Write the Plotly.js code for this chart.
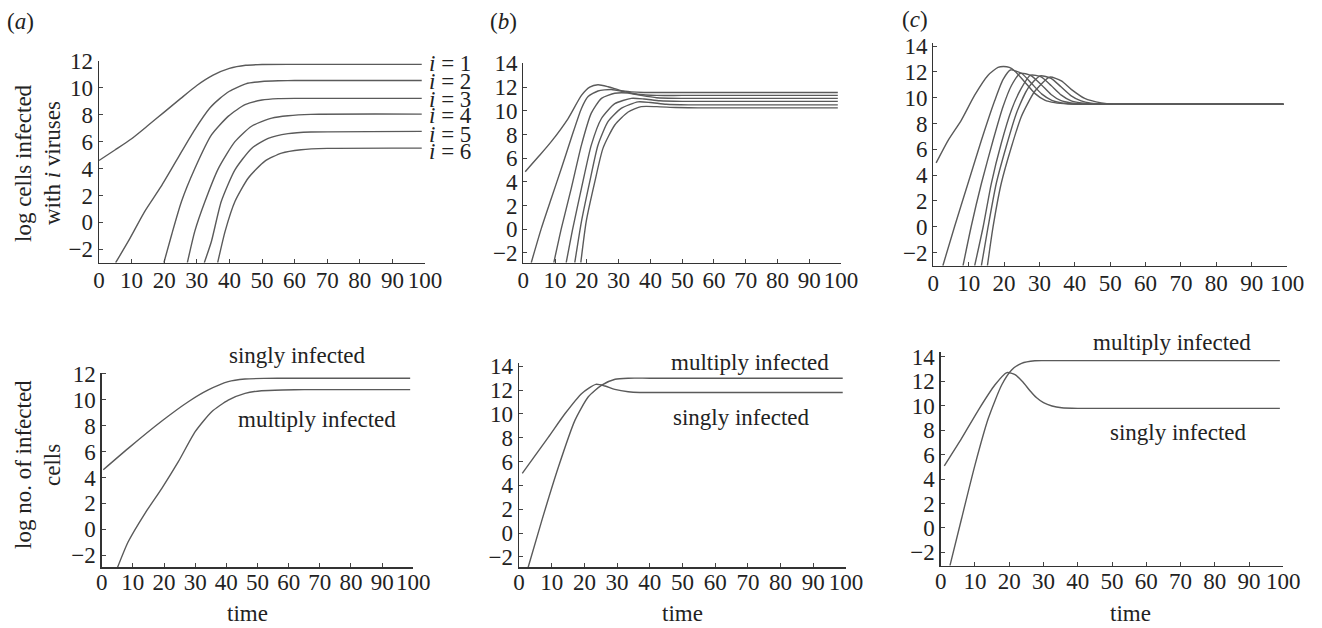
<!DOCTYPE html>
<html>
<head>
<meta charset="utf-8">
<script src="https://cdn.plot.ly/plotly-3.0.1.min.js"></script>
<style>html,body{margin:0;padding:0;background:#fff;}#chart{width:1322px;height:628px;}</style>
</head>
<body>
<div id="chart"></div>
<script>
// ---------- data ----------
// Panel (a), top: log cells infected with i viruses
const a1_t = [0, 5, 10, 15, 20, 25, 30, 35, 40, 45, 50, 60, 99];
const a1_y = [4.6, 5.4, 6.22, 7.2, 8.2, 9.2, 10.18, 10.95, 11.45, 11.68, 11.74, 11.75, 11.75];
const a2_t = [5.1, 9, 14, 19, 24, 29, 34, 37, 40, 45, 50, 55, 60, 99];
const a2_y = [-3, -1.4, 0.8, 2.65, 4.7, 6.75, 8.5, 9.2, 9.75, 10.3, 10.48, 10.53, 10.55, 10.55];
const a3_t = [19.9, 22.3, 25.3, 29.4, 34.5, 39.7, 44.8, 50, 55, 60, 99];
const a3_y = [-3, -0.9, 1.55, 4.0, 6.5, 7.9, 8.75, 9.1, 9.2, 9.22, 9.22];
const a4_t = [27.1, 29.4, 32.5, 36.6, 41.7, 46.8, 53, 58, 65, 99];
const a4_y = [-3, -0.65, 1.55, 4.0, 6.0, 7.15, 7.75, 7.93, 8.03, 8.05];
const a5_t = [32.3, 34.5, 37.5, 41.7, 46.8, 51.9, 58, 65, 99];
const a5_y = [-3, -1.4, 1.55, 3.9, 5.5, 6.25, 6.6, 6.72, 6.77];
const a6_t = [36.4, 38.7, 41.7, 45.8, 50.9, 56, 62, 70, 99];
const a6_y = [-3, -0.65, 1.55, 3.3, 4.55, 5.15, 5.4, 5.5, 5.52];

// Panel (b), top
const b1_t = [0.6, 5, 8.8, 14.1, 18.3, 20.9, 23.5, 26.7, 30.8, 34, 38, 45, 60, 99];
const b1_y = [4.86, 6.2, 7.4, 9.35, 11.3, 12.0, 12.2, 12.03, 11.7, 11.6, 11.55, 11.55, 11.55, 11.55];
const b2_t = [2.5, 5.7, 8.8, 12, 15.1, 18.3, 20.4, 23.5, 27.7, 32, 36, 42, 50, 99];
const b2_y = [-2.82, 0.1, 2.6, 5.15, 7.7, 10.2, 11.2, 11.67, 11.8, 11.6, 11.4, 11.3, 11.3, 11.3];
const b3_t = [9.6, 12, 15.1, 18.3, 21.4, 24.6, 28.8, 33, 37, 42, 50, 99];
const b3_y = [-2.82, 0.1, 3.45, 7.1, 9.8, 11.05, 11.48, 11.5, 11.3, 11.1, 11.05, 11.05];
const b4_t = [13.5, 15.6, 18.3, 21.4, 24.6, 28.8, 34, 38, 43, 50, 99];
const b4_y = [-2.82, 0.1, 3.45, 7.1, 9.35, 10.6, 11.05, 11.0, 10.85, 10.8, 10.8];
const b5_t = [16.2, 18.3, 20.9, 23.5, 26.7, 30.8, 36.1, 40, 45, 52, 99];
const b5_y = [-2.82, 0.65, 4.0, 7.1, 9.1, 10.2, 10.75, 10.7, 10.55, 10.5, 10.5];
const b6_t = [18.1, 19.8, 22.5, 25.1, 28.8, 33, 37.1, 42, 48, 55, 99];
const b6_y = [-2.82, 0.65, 4.0, 6.85, 8.8, 9.9, 10.35, 10.35, 10.28, 10.25, 10.25];

// Panel (c), top
const c1_t = [0.8, 4.2, 7.9, 11.7, 15.5, 18.3, 19.8, 21.5, 23, 25.8, 28.7, 31.5, 34.3, 38, 50, 99];
const c1_y = [4.95, 6.7, 8.25, 10.2, 11.75, 12.35, 12.42, 12.35, 12.08, 11.24, 10.34, 9.82, 9.62, 9.52, 9.5, 9.5];
const c2_t = [2.7, 6, 9.8, 13.6, 17.4, 19.7, 21.8, 25, 27.8, 30.7, 33.5, 36.3, 40, 50, 99];
const c2_y = [-3.02, 0, 3.35, 6.7, 9.8, 11.4, 12.15, 11.88, 11.1, 10.28, 9.8, 9.6, 9.52, 9.5, 9.5];
const c3_t = [8.4, 10.7, 13.6, 16.9, 19.7, 22.1, 24.6, 27.6, 30.4, 33.3, 36.1, 38.9, 42.5, 50, 99];
const c3_y = [-3.02, 0, 3.35, 6.7, 9.3, 10.95, 11.9, 11.72, 11.05, 10.25, 9.77, 9.6, 9.52, 9.5, 9.5];
const c4_t = [11.7, 14.1, 16.4, 19.2, 22.1, 24.9, 27.5, 30.5, 33.3, 36.2, 39, 41.8, 45.5, 55, 99];
const c4_y = [-3.02, 0, 3.35, 6.45, 9.05, 10.75, 11.75, 11.62, 10.95, 10.2, 9.75, 9.6, 9.52, 9.5, 9.5];
const c5_t = [13.6, 15.5, 17.8, 20.6, 23.5, 26.8, 30.2, 33.3, 36.1, 39, 41.8, 44.6, 48.3, 55, 99];
const c5_y = [-3.02, 0, 3.35, 6.2, 8.8, 10.75, 11.7, 11.5, 10.85, 10.15, 9.75, 9.58, 9.52, 9.5, 9.5];
const c6_t = [15.3, 16.9, 19.2, 22.1, 24.9, 28.7, 32.9, 36.2, 39, 42.8, 47.5, 51, 60, 99];
const c6_y = [-3.02, 0, 3.35, 6.2, 8.55, 10.5, 11.6, 11.3, 10.65, 9.95, 9.6, 9.5, 9.5, 9.5];

// Bottom row: singly vs multiply infected
const da_single_t = [0.5, 8.5, 19.3, 27.8, 34.2, 40.6, 46, 52, 60, 99];
const da_single_y = [4.6, 6.25, 8.36, 9.85, 10.76, 11.4, 11.6, 11.65, 11.66, 11.66];
const da_multi_t = [5.1, 8.5, 13.9, 19.3, 24.6, 30, 35.3, 40.6, 46, 51.3, 58, 65, 99];
const da_multi_y = [-2.93, -0.96, 1.24, 3.17, 5.22, 7.54, 9.08, 9.98, 10.5, 10.7, 10.76, 10.78, 10.78];

const db_single_t = [1, 9, 14.1, 19.2, 23.5, 26.3, 29.3, 33.4, 37, 45, 99];
const db_single_y = [5.0, 8.05, 10.03, 11.72, 12.48, 12.34, 12.06, 11.86, 11.8, 11.8, 11.8];
const db_multi_t = [2.8, 6.9, 12, 17.1, 21.2, 25.3, 29.4, 33.4, 40, 99];
const db_multi_y = [-2.88, 0.98, 5.5, 9.46, 11.44, 12.42, 12.91, 13.0, 13.0, 13.0];

const dc_single_t = [1.05, 6.1, 11, 15.8, 19.3, 21.7, 24, 26, 28, 30, 32.5, 35.3, 40, 99];
const dc_single_y = [5.08, 7.33, 9.65, 11.7, 12.72, 12.55, 11.95, 11.25, 10.65, 10.25, 9.98, 9.84, 9.79, 9.79];
const dc_multi_t = [2.7, 6.1, 10, 13.9, 17.8, 20.7, 23.6, 27.5, 32, 99];
const dc_multi_y = [-3.1, 0.77, 5.14, 8.97, 11.7, 12.93, 13.48, 13.69, 13.7, 13.7];

const xTicks = [0, 10, 20, 30, 40, 50, 60, 70, 80, 90, 100];
const iLabels = ["<i>i</i> = 1", "<i>i</i> = 2", "<i>i</i> = 3", "<i>i</i> = 4", "<i>i</i> = 5", "<i>i</i> = 6"];
const panelLabels = ["(<i>a</i>)", "(<i>b</i>)", "(<i>c</i>)"];

// ---------- layout helpers ----------
const W = 1322, H = 628;
const FONT = "Liberation Serif";
const FS = 23;
const TXT = "#222";
const LINE = "#5a5a5a";
const px = v => v / W;
const py = v => 1 - v / H;

// panel geometry in pixels: [left, right, bottom, top], data y-range, x-label standoff
const panels = [
  {l: 99,    r: 425,    b: 262.7, t: 61,    yr: [-3, 12],        so: -4},
  {l: 523.3, r: 841,    b: 262.7, t: 62.7,  yr: [-2.82, 14.06],  so: -4},
  {l: 933.3, r: 1287,   b: 265.7, t: 43.3,  yr: [-3.02, 14.22],  so: -4},
  {l: 101.7, r: 413.3,  b: 567.3, t: 372.7, yr: [-2.93, 12.09],  so: -6},
  {l: 519,   r: 846,    b: 567.3, t: 362.7, yr: [-2.88, 14.3],   so: -6},
  {l: 940.7, r: 1283.3, b: 565.7, t: 351.7, yr: [-3.1, 14.43],   so: -6}
];

const layout = {
  width: W, height: H,
  margin: {l: 0, r: 0, t: 0, b: 0},
  paper_bgcolor: "#fff", plot_bgcolor: "#fff",
  showlegend: false,
  font: {family: FONT, size: FS, color: TXT},
  annotations: []
};

panels.forEach((p, k) => {
  const n = k === 0 ? "" : String(k + 1);
  const common = {
    showline: true, linecolor: "#333", linewidth: 1.3,
    ticks: "inside", ticklen: 4, tickcolor: "#444", tickwidth: 1,
    showgrid: false, zeroline: false, fixedrange: true,
    tickfont: {family: FONT, size: FS, color: TXT}
  };
  layout["xaxis" + n] = Object.assign({}, common, {
    domain: [px(p.l), px(p.r)], range: [0, 100], anchor: "y" + n,
    tickmode: "array", tickvals: xTicks, ticktext: xTicks.map(String), tickangle: 0,
    ticklabelstandoff: p.so
  });
  layout["yaxis" + n] = Object.assign({}, common, {
    domain: [py(p.b), py(p.t)], range: p.yr, anchor: "x" + n,
    dtick: 2, tick0: 0
  });
});

const series = [
  [0, a1_t, a1_y], [0, a2_t, a2_y], [0, a3_t, a3_y], [0, a4_t, a4_y], [0, a5_t, a5_y], [0, a6_t, a6_y],
  [1, b1_t, b1_y], [1, b2_t, b2_y], [1, b3_t, b3_y], [1, b4_t, b4_y], [1, b5_t, b5_y], [1, b6_t, b6_y],
  [2, c1_t, c1_y], [2, c2_t, c2_y], [2, c3_t, c3_y], [2, c4_t, c4_y], [2, c5_t, c5_y], [2, c6_t, c6_y],
  [3, da_single_t, da_single_y], [3, da_multi_t, da_multi_y],
  [4, db_single_t, db_single_y], [4, db_multi_t, db_multi_y],
  [5, dc_single_t, dc_single_y], [5, dc_multi_t, dc_multi_y]
];

const traces = series.map(([k, t, y]) => {
  const n = k === 0 ? "" : String(k + 1);
  return {
    type: "scatter", mode: "lines", x: t, y: y,
    xaxis: "x" + n, yaxis: "y" + n,
    line: {color: LINE, width: 1.4, shape: "spline", smoothing: 0.6},
    hoverinfo: "skip"
  };
});

function note(text, x, y, opts) {
  layout.annotations.push(Object.assign({
    text: text, xref: "paper", yref: "paper", x: px(x), y: py(y),
    showarrow: false, xanchor: "center", yanchor: "middle",
    font: {family: FONT, size: FS, color: TXT}
  }, opts || {}));
}

// panel labels
note(panelLabels[0], 20, 21);
note(panelLabels[1], 503, 21);
note(panelLabels[2], 915, 19);

// i = n labels (tightly stacked as in the reference)
const iY = [63, 81, 99, 116, 134, 152];
iLabels.forEach((s, j) => note(s, 427, iY[j], {xanchor: "left"}));

// y-axis titles
note("log cells infected", 23, 163, {textangle: -90});
note("with <i>i</i> viruses", 52, 163, {textangle: -90});
note("log no. of infected", 23, 465, {textangle: -90});
note("cells", 52, 465, {textangle: -90});

// time labels
note("time", 247, 613);
note("time", 682, 613);
note("time", 1130, 613);

// curve labels in bottom row
note("singly infected", 297, 355);
note("multiply infected", 317, 419);
note("multiply infected", 750, 362);
note("singly infected", 741, 417);
note("multiply infected", 1172, 342);
note("singly infected", 1178, 432);

Plotly.newPlot("chart", traces, layout, {staticPlot: true, displayModeBar: false});
</script>
</body>
</html>
